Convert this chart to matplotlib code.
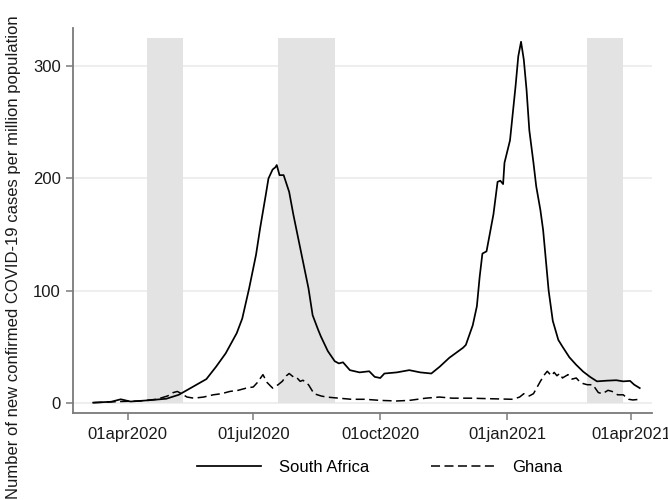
import matplotlib
matplotlib.use("Agg")
import matplotlib.pyplot as plt
import pandas as pd

# 7-day average of new confirmed cases per million population
sa_dates = ["2020-03-07", "2020-03-20", "2020-03-27", "2020-04-03", "2020-04-15",
            "2020-04-29", "2020-05-08", "2020-05-18", "2020-05-28", "2020-06-04",
            "2020-06-11", "2020-06-19", "2020-06-23", "2020-06-28", "2020-07-03",
            "2020-07-06", "2020-07-10", "2020-07-12", "2020-07-15", "2020-07-17",
            "2020-07-18", "2020-07-20", "2020-07-23", "2020-07-27", "2020-07-30",
            "2020-08-03", "2020-08-07", "2020-08-10", "2020-08-13", "2020-08-17",
            "2020-08-19", "2020-08-24", "2020-08-29", "2020-09-01", "2020-09-04",
            "2020-09-09", "2020-09-16", "2020-09-23", "2020-09-27", "2020-10-01",
            "2020-10-04", "2020-10-13", "2020-10-22", "2020-10-30", "2020-11-07",
            "2020-11-13", "2020-11-20", "2020-11-30", "2020-12-02", "2020-12-07",
            "2020-12-10", "2020-12-12", "2020-12-14", "2020-12-17", "2020-12-22",
            "2020-12-25", "2020-12-27", "2020-12-29", "2020-12-30", "2021-01-03",
            "2021-01-05", "2021-01-07", "2021-01-09", "2021-01-11", "2021-01-13",
            "2021-01-15", "2021-01-17", "2021-01-20", "2021-01-22", "2021-01-25",
            "2021-01-27", "2021-01-31", "2021-02-03", "2021-02-07", "2021-02-10",
            "2021-02-15", "2021-02-20", "2021-02-25", "2021-03-02", "2021-03-07",
            "2021-03-14", "2021-03-21", "2021-03-26", "2021-03-31", "2021-04-03",
            "2021-04-07"]
sa_cases = [0, 0.8, 3, 1, 2,
            3.5, 7, 14, 21, 32,
            44, 62, 75, 102, 132,
            156, 185, 200, 208, 210,
            212, 203, 203, 188, 168,
            144, 120, 102, 78, 65,
            59, 46, 37, 35, 36,
            29, 27, 28, 23, 22,
            26, 27, 29, 27, 26,
            32, 40, 49, 51.5, 69,
            86, 112, 133, 135, 168,
            197, 198, 195, 214, 234,
            258, 282, 309, 322, 306,
            279, 243, 214, 193, 172,
            154, 100, 73, 56, 50,
            40.5, 33.7, 27.7, 23, 19,
            19.6, 20, 19, 19.4, 16,
            13]

gh_dates = ["2020-03-07", "2020-03-27", "2020-04-10", "2020-04-22", "2020-04-30",
            "2020-05-04", "2020-05-07", "2020-05-10", "2020-05-14", "2020-05-19",
            "2020-05-26", "2020-06-02", "2020-06-08", "2020-06-14", "2020-06-20",
            "2020-06-26", "2020-07-01", "2020-07-04", "2020-07-08", "2020-07-11",
            "2020-07-15", "2020-07-19", "2020-07-22", "2020-07-25", "2020-07-27",
            "2020-07-30", "2020-08-01", "2020-08-04", "2020-08-06", "2020-08-10",
            "2020-08-14", "2020-08-19", "2020-08-23", "2020-09-01", "2020-09-10",
            "2020-09-20", "2020-10-01", "2020-10-13", "2020-10-22", "2020-11-03",
            "2020-11-13", "2020-11-22", "2020-12-05", "2020-12-20", "2021-01-05",
            "2021-01-10", "2021-01-13", "2021-01-17", "2021-01-20", "2021-01-25",
            "2021-01-28", "2021-01-30", "2021-02-02", "2021-02-04", "2021-02-06",
            "2021-02-08", "2021-02-10", "2021-02-14", "2021-02-17", "2021-02-20",
            "2021-02-23", "2021-02-25", "2021-02-28", "2021-03-04", "2021-03-08",
            "2021-03-11", "2021-03-15", "2021-03-18", "2021-03-22", "2021-03-26",
            "2021-03-30", "2021-04-02", "2021-04-07"]
gh_cases = [0, 1, 1.5, 3, 6,
            9, 10, 8, 5, 4,
            5, 7, 8, 10, 11,
            13, 14, 18, 25, 18,
            13, 16, 19, 24, 26,
            23, 23, 19, 20, 16,
            8, 6, 5, 4, 3,
            3, 2, 1.5, 2, 4,
            5, 4, 4, 3.5, 3,
            5, 8, 6, 8, 19,
            25, 28, 24, 27, 24,
            26, 22, 25, 21, 22,
            18, 17, 16, 16, 9,
            8, 11, 10, 7, 7,
            3, 2.4, 3]

# Shaded periods
shade_start = ["2020-04-15", "2020-07-19", "2021-02-28"]
shade_end = ["2020-05-11", "2020-08-29", "2021-03-26"]

yticks = [0, 100, 200, 300]
xtick_dates = ["2020-04-01", "2020-07-01", "2020-10-01", "2021-01-01", "2021-04-01"]
xtick_labels = ["01apr2020", "01jul2020", "01oct2020", "01jan2021", "01apr2021"]

plt.rcParams["font.family"] = ["Liberation Sans", "DejaVu Sans"]
plt.rcParams["lines.scale_dashes"] = False

FS = 12

fig = plt.figure(figsize=(6.68, 5.0), dpi=100)
ax = fig.add_axes([0.1097, 0.1734, 0.8659, 0.770])

for s, e in zip(shade_start, shade_end):
    ax.fill_between([pd.Timestamp(s), pd.Timestamp(e)], 0, 325,
                    color="#e3e3e3", linewidth=0, zorder=1)

ax.plot(pd.to_datetime(sa_dates), sa_cases, color="black", lw=1.25,
        label="South Africa", zorder=3)
ax.plot(pd.to_datetime(gh_dates), gh_cases, color="black", lw=1.1,
        linestyle=(0, (6.5, 3.2)), label="Ghana", zorder=3)

ax.set_ylim(-9.5, 334)
ax.set_xlim(pd.Timestamp("2020-02-21 14:00"), pd.Timestamp("2021-04-15 16:00"))

ax.set_yticks(yticks)
ax.set_xticks(pd.to_datetime(xtick_dates))
ax.set_xticklabels(xtick_labels)

ax.set_axisbelow(True)
ax.yaxis.grid(True, color="#ebebeb", lw=1.2)
ax.xaxis.grid(False)

for side in ("top", "right"):
    ax.spines[side].set_visible(False)
for side in ("left", "bottom"):
    ax.spines[side].set_color("#7a7a7a")
    ax.spines[side].set_linewidth(1.3)

ax.tick_params(axis="both", colors="#7a7a7a", length=5, width=1.1,
               labelcolor="#1a1a1a", labelsize=FS)
ax.tick_params(axis="x", pad=5)
ax.tick_params(axis="y", pad=4)

fig.text(14 / 668, 1 - 257 / 500,
         "Number of new confirmed COVID-19 cases per million population",
         rotation=90, ha="center", va="center", fontsize=FS, color="#1a1a1a")

fig.legend(loc="center", bbox_to_anchor=(0.569, 0.065), ncol=2, frameon=False,
           fontsize=FS, handlelength=3.8, handletextpad=1.1, columnspacing=3.7)

fig.savefig("out.png", dpi=100, facecolor="white")
